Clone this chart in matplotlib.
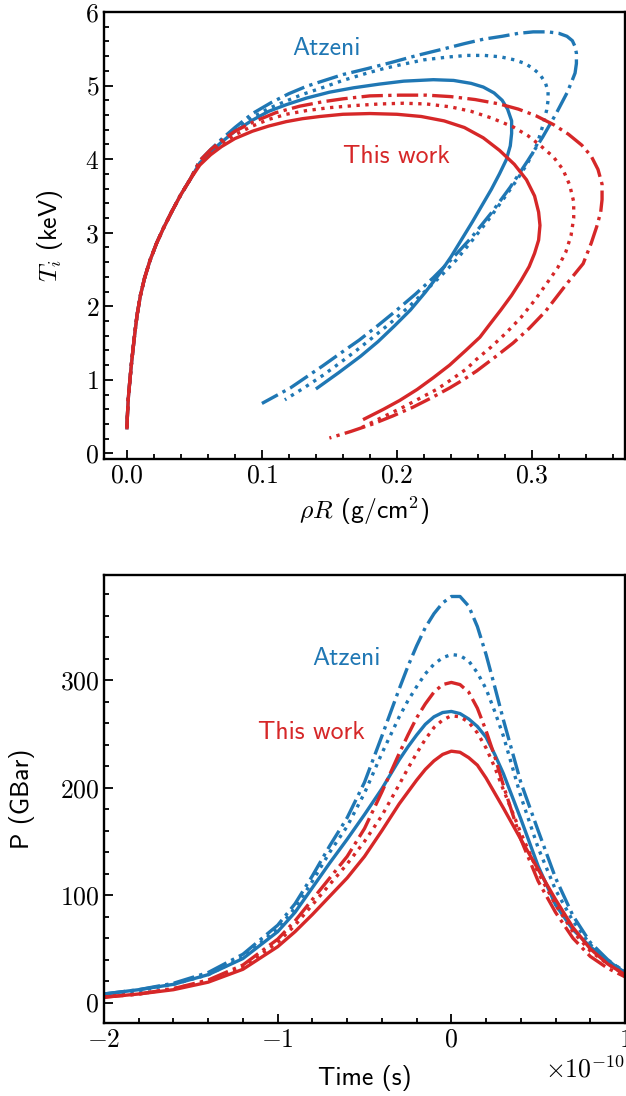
import numpy as np
import matplotlib
matplotlib.use("Agg")
import matplotlib.pyplot as plt
from matplotlib.ticker import MultipleLocator

plt.rcParams["font.family"] = "serif"
plt.rcParams["font.serif"] = ["cmr10"]
plt.rcParams["mathtext.fontset"] = "cm"
plt.rcParams["axes.formatter.use_mathtext"] = True
plt.rcParams["axes.unicode_minus"] = True

BLUE = "#1f77b4"
RED = "#d62728"
FS = 18.5
SANS = "cmss10"
LW = 2.4

# --- hot-spot trajectories: rho R (g/cm^2) vs T_i (keV) ---
# common ignition rise, shared by every run
rr_rise = [0.000, 0.0003, 0.0010, 0.0022, 0.0034, 0.0047, 0.0060, 0.0075, 0.0100,
           0.013, 0.017, 0.022, 0.027, 0.033, 0.040, 0.047]
T_rise = [0.35, 0.50, 0.75, 1.00, 1.23, 1.45, 1.66, 1.88, 2.15,
          2.38, 2.62, 2.86, 3.06, 3.28, 3.52, 3.73]

# Atzeni model
rr_atz_solid = [0.054, 0.062, 0.070, 0.080, 0.093, 0.105, 0.118, 0.133, 0.150, 0.168,
                0.187, 0.205, 0.227, 0.242, 0.255, 0.264, 0.272, 0.278, 0.282, 0.285,
                0.285, 0.284, 0.281, 0.276, 0.270, 0.263, 0.256, 0.248, 0.240, 0.231,
                0.221, 0.210, 0.198, 0.186, 0.173, 0.157, 0.141]
T_atz_solid = [3.95, 4.10, 4.23, 4.38, 4.53, 4.65, 4.74, 4.83, 4.91, 4.97,
               5.02, 5.06, 5.08, 5.07, 5.03, 4.98, 4.90, 4.80, 4.68, 4.52,
               4.35, 4.18, 3.99, 3.80, 3.59, 3.37, 3.15, 2.91, 2.67, 2.43,
               2.19, 1.95, 1.73, 1.52, 1.32, 1.10, 0.89]

rr_atz_dot = [0.054, 0.062, 0.070, 0.080, 0.093, 0.105, 0.118, 0.130, 0.143, 0.160,
              0.178, 0.190, 0.202, 0.220, 0.239, 0.252, 0.265, 0.277, 0.287, 0.295,
              0.301, 0.306, 0.310, 0.312, 0.312, 0.311, 0.308, 0.304, 0.297, 0.289,
              0.279, 0.268, 0.256, 0.244, 0.233, 0.220, 0.208, 0.195, 0.183, 0.170,
              0.157, 0.145, 0.131, 0.117]
T_atz_dot = [3.97, 4.11, 4.24, 4.39, 4.57, 4.69, 4.79, 4.88, 4.96, 5.07,
             5.17, 5.23, 5.28, 5.35, 5.39, 5.41, 5.41, 5.39, 5.35, 5.30,
             5.23, 5.15, 5.04, 4.92, 4.80, 4.67, 4.45, 4.21, 3.95, 3.72,
             3.46, 3.18, 2.90, 2.63, 2.42, 2.19, 1.98, 1.77, 1.59, 1.40,
             1.22, 1.06, 0.89, 0.73]

rr_atz_dd = [0.054, 0.062, 0.070, 0.080, 0.093, 0.107, 0.120, 0.133, 0.143, 0.160,
             0.178, 0.195, 0.215, 0.235, 0.250, 0.264, 0.278, 0.290, 0.301, 0.312,
             0.320, 0.326, 0.330, 0.332, 0.333, 0.333, 0.332, 0.329, 0.326, 0.318,
             0.308, 0.297, 0.284, 0.270, 0.255, 0.240, 0.227, 0.214, 0.200, 0.186,
             0.172, 0.158, 0.145, 0.133, 0.121, 0.110, 0.100]
T_atz_dd = [3.98, 4.13, 4.27, 4.43, 4.62, 4.77, 4.89, 4.99, 5.05, 5.15,
            5.23, 5.31, 5.41, 5.50, 5.57, 5.63, 5.67, 5.71, 5.73, 5.73,
            5.71, 5.67, 5.61, 5.53, 5.44, 5.30, 5.17, 5.03, 4.90, 4.62,
            4.30, 3.98, 3.62, 3.27, 2.93, 2.63, 2.39, 2.17, 1.95, 1.74,
            1.54, 1.36, 1.19, 1.04, 0.89, 0.78, 0.68]

# this work
rr_tw_solid = [0.054, 0.062, 0.070, 0.080, 0.093, 0.105, 0.118, 0.130, 0.143, 0.160,
               0.180, 0.200, 0.218, 0.235, 0.250, 0.264, 0.276, 0.287, 0.296, 0.302,
               0.305, 0.306, 0.305, 0.302, 0.298, 0.292, 0.285, 0.277, 0.269, 0.2615,
               0.251, 0.239, 0.227, 0.215, 0.202, 0.190, 0.176]
T_tw_solid = [3.92, 4.06, 4.17, 4.28, 4.38, 4.45, 4.51, 4.55, 4.58, 4.61,
              4.62, 4.61, 4.58, 4.52, 4.43, 4.29, 4.12, 3.93, 3.72, 3.50,
              3.28, 3.10, 2.90, 2.72, 2.54, 2.35, 2.15, 1.95, 1.76, 1.58,
              1.40, 1.20, 1.03, 0.87, 0.72, 0.60, 0.47]

rr_tw_dot = [0.054, 0.062, 0.070, 0.080, 0.093, 0.105, 0.118, 0.133, 0.150, 0.170,
             0.187, 0.205, 0.222, 0.240, 0.255, 0.270, 0.286, 0.297, 0.306, 0.316,
             0.323, 0.328, 0.331, 0.331, 0.329, 0.325, 0.319, 0.311, 0.302, 0.292,
             0.281, 0.270, 0.259, 0.2516, 0.240, 0.2294, 0.217, 0.2047, 0.190, 0.1726]
T_tw_dot = [3.95, 4.10, 4.21, 4.33, 4.45, 4.54, 4.61, 4.66, 4.70, 4.73,
            4.75, 4.76, 4.75, 4.71, 4.65, 4.56, 4.44, 4.32, 4.19, 4.03,
            3.86, 3.65, 3.42, 3.20, 2.96, 2.73, 2.52, 2.31, 2.08, 1.85,
            1.64, 1.45, 1.28, 1.15, 1.00, 0.87, 0.75, 0.63, 0.50, 0.34]

rr_tw_dd = [0.054, 0.062, 0.070, 0.080, 0.093, 0.110, 0.128, 0.145, 0.160, 0.180,
            0.202, 0.222, 0.240, 0.258, 0.276, 0.290, 0.303, 0.316, 0.327, 0.337,
            0.344, 0.349, 0.352, 0.352, 0.351, 0.348, 0.344, 0.338, 0.326, 0.318,
            0.310, 0.298, 0.286, 0.272, 0.259, 0.249, 0.239, 0.226, 0.212, 0.197,
            0.182, 0.166, 0.150]
T_tw_dd = [3.98, 4.13, 4.25, 4.38, 4.50, 4.63, 4.72, 4.78, 4.82, 4.86,
           4.87, 4.87, 4.85, 4.81, 4.75, 4.68, 4.59, 4.47, 4.34, 4.19,
           4.04, 3.86, 3.66, 3.45, 3.28, 3.08, 2.86, 2.58, 2.31, 2.12,
           1.93, 1.70, 1.50, 1.30, 1.12, 1.00, 0.89, 0.76, 0.63, 0.51,
           0.40, 0.30, 0.21]

# --- hot-spot pressure (GBar) vs time (units of 1e-10 s) ---
t_grid = [-2.0, -1.8, -1.6, -1.4, -1.2, -1.0, -0.9, -0.8, -0.7, -0.6,
          -0.5, -0.4, -0.3, -0.25, -0.2, -0.15, -0.1, -0.05, 0.0, 0.05,
          0.1, 0.15, 0.2, 0.25, 0.3, 0.4, 0.5, 0.6, 0.7, 0.8,
          0.9, 1.0]

P_atz_solid = [8, 12, 17, 26, 41, 66, 84, 107, 130, 152,
               175, 199, 226, 238, 249, 259, 266, 270, 271, 269,
               264, 257, 247, 231, 213, 171, 127, 91, 68, 52,
               39, 28]
P_atz_dot = [7, 11, 17, 26, 42, 69, 88, 113, 140, 164,
             195, 232, 266, 281, 294, 306, 315, 321, 324, 323,
             318, 307, 292, 271, 248, 192, 144, 105, 76, 54,
             39, 29]
P_atz_dd = [8, 12, 18, 28, 45, 72, 92, 118, 146, 172,
            205, 248, 292, 313, 332, 349, 362, 372, 378, 378,
            369, 350, 324, 294, 263, 205, 160, 116, 81, 56,
            40, 28]

P_tw_solid = [5, 8, 12, 19, 31, 52, 66, 82, 99, 116,
              136, 160, 185, 196, 207, 217, 225, 231, 234, 233,
              228, 221, 209, 195, 181, 152, 124, 96, 70, 50,
              36, 26]
P_tw_dot = [5, 8, 13, 20, 33, 56, 72, 91, 110, 129,
            150, 174, 203, 218, 232, 245, 256, 263, 267, 266,
            261, 251, 237, 219, 198, 158, 121, 91, 66, 48,
            36, 26]
P_tw_dd = [5, 8, 13, 21, 35, 59, 76, 96, 116, 136,
           162, 196, 232, 249, 265, 278, 289, 296, 298, 296,
           289, 274, 253, 229, 202, 152, 113, 84, 60, 43,
           32, 24]


def style_axes(ax):
    for sp in ax.spines.values():
        sp.set_linewidth(1.7)
    ax.tick_params(which="both", direction="in", top=False, right=False,
                   labelsize=FS, width=1.3)
    ax.tick_params(which="major", length=6.5)
    ax.tick_params(which="minor", length=3.8)


fig = plt.figure(figsize=(6.26, 10.96), dpi=100)
ax1 = fig.add_axes([104 / 626, (1096 - 459) / 1096, 521 / 626, 447 / 1096])
ax2 = fig.add_axes([104 / 626, (1096 - 1023) / 1096, 521 / 626, 448 / 1096])

# top panel: each trajectory = shared rise + its own loop
runs = [
    (rr_atz_solid, T_atz_solid, BLUE, "-"),
    (rr_atz_dot, T_atz_dot, BLUE, ":"),
    (rr_atz_dd, T_atz_dd, BLUE, "-."),
    (rr_tw_solid, T_tw_solid, RED, "-"),
    (rr_tw_dot, T_tw_dot, RED, ":"),
    (rr_tw_dd, T_tw_dd, RED, "-."),
]
for rr, T, c, ls in runs:
    ax1.plot(rr_rise + rr, T_rise + T, color=c, lw=LW, ls=ls)

ax1.set_xlim(-0.017, 0.369)
ax1.set_ylim(-0.075, 6.0)
ax1.xaxis.set_major_locator(MultipleLocator(0.1))
ax1.xaxis.set_minor_locator(MultipleLocator(0.02))
ax1.yaxis.set_major_locator(MultipleLocator(1))
ax1.yaxis.set_minor_locator(MultipleLocator(0.2))
ax1.set_xlabel(r"$\rho R$ (g/cm$^2$)", fontsize=FS, family=SANS, labelpad=5)
ax1.set_ylabel(r"$T_i$ (keV)", fontsize=FS, family=SANS)
ax1.yaxis.set_label_coords(-0.075, 0.5)
ax1.text(0.148, 5.51, "Atzeni", color=BLUE, fontsize=FS, family=SANS,
         ha="center", va="center")
ax1.text(0.1996, 4.03, "This work", color=RED, fontsize=FS, family=SANS,
         ha="center", va="center")
style_axes(ax1)

# bottom panel
t = np.array(t_grid) * 1e-10
ax2.plot(t, P_atz_solid, color=BLUE, lw=LW, ls="-")
ax2.plot(t, P_atz_dot, color=BLUE, lw=LW, ls=":")
ax2.plot(t, P_atz_dd, color=BLUE, lw=LW, ls="-.")
ax2.plot(t, P_tw_solid, color=RED, lw=LW, ls="-")
ax2.plot(t, P_tw_dot, color=RED, lw=LW, ls=":")
ax2.plot(t, P_tw_dd, color=RED, lw=LW, ls="-.")
ax2.set_xlim(-2e-10, 1e-10)
ax2.set_ylim(-19, 398)
ax2.xaxis.set_major_locator(MultipleLocator(1e-10))
ax2.xaxis.set_minor_locator(MultipleLocator(0.2e-10))
ax2.yaxis.set_major_locator(MultipleLocator(100))
ax2.yaxis.set_minor_locator(MultipleLocator(20))
ax2.xaxis.get_offset_text().set_fontsize(FS)
ax2.set_xlabel("Time (s)", fontsize=FS, family=SANS, labelpad=10)
ax2.set_ylabel("P (GBar)", fontsize=FS, family=SANS)
ax2.yaxis.set_label_coords(-0.132, 0.5)
ax2.text(-0.602e-10, 320.5, "Atzeni", color=BLUE, fontsize=FS, family=SANS,
         ha="center", va="center")
ax2.text(-0.807e-10, 251.6, "This work", color=RED, fontsize=FS, family=SANS,
         ha="center", va="center")
style_axes(ax2)

fig.savefig("out.png", dpi=100)
